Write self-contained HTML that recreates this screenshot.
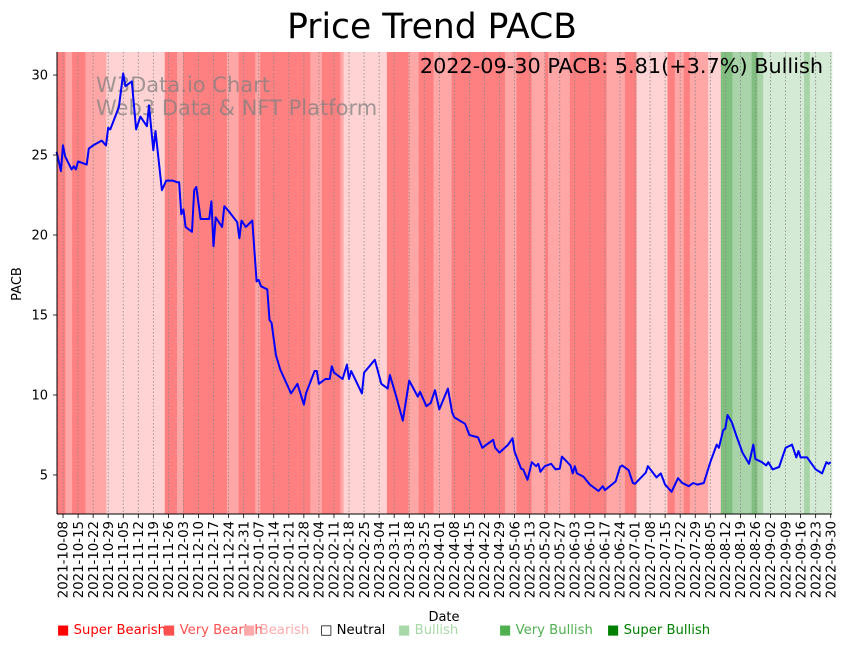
<!DOCTYPE html>
<html><head><meta charset="utf-8"><style>
html,body{margin:0;padding:0;background:#fff;}
svg{display:block;font-family:"DejaVu Sans","Liberation Sans",sans-serif;}
</style></head><body>
<svg id="chart" width="848" height="646" viewBox="0 0 848 646" xmlns="http://www.w3.org/2000/svg">
<text x="432" y="38" font-size="34.5" text-anchor="middle" fill="#000">Price Trend PACB</text>
<g id="bands"></g>
<g id="grid"></g>
<text x="96" y="92" font-size="21" fill="#808080" fill-opacity="0.75">W3Data.io Chart</text>
<text x="96" y="115" font-size="21" fill="#808080" fill-opacity="0.75">Web3 Data &amp; NFT Platform</text>
<g id="line"></g>
<text x="823" y="73" font-size="20.8" text-anchor="end" fill="#000">2022-09-30 PACB: 5.81(+3.7%) Bullish</text>
<g id="axes"></g>
<text x="444" y="621" font-size="13" text-anchor="middle">Date</text>
<text x="21" y="284" font-size="13" text-anchor="middle" transform="rotate(-90 21 284)">PACB</text>
<g id="legend" font-size="13.2">
<text x="57" y="634" fill="#ff0000">■ Super Bearish</text>
<text x="163" y="634" fill="#ff5050">■ Very Bearish</text>
<text x="243" y="634" fill="#ffaaaa">■ Bearish</text>
<text x="320" y="634" fill="#000">□ Neutral</text>
<text x="398" y="634" fill="#a8d8a8">■ Bullish</text>
<text x="499" y="634" fill="#50b050">■ Very Bullish</text>
<text x="607" y="634" fill="#008000">■ Super Bullish</text>
</g>
</svg>
<script>
// day offsets from 2021-10-08
const days=[-3,-1,0,1,4,5,6,7,11,12,14,18,20,21,22,26,28,29,32,34,36,39,40,42,43,46,48,51,53,54,55,56,57,60,61,62,64,68,69,70,71,74,75,77,81,82,83,85,88,90,91,92,95,96,97,99,101,106,109,112,113,117,118,119,122,124,125,126,130,132,133,134,139,140,145,148,151,152,155,158,161,165,166,169,171,173,175,179,181,182,187,189,193,195,200,201,203,207,209,210,213,214,216,218,220,221,222,224,227,229,231,232,236,237,238,239,242,245,249,251,252,257,259,260,263,265,266,271,272,276,278,280,283,286,288,291,293,295,298,301,304,305,307,308,309,311,313,316,319,321,322,325,327,328,330,333,336,339,341,342,343,346,350,353,355,356,357];
const prices=[25.2,24.0,25.6,24.9,24.1,24.3,24.1,24.6,24.4,25.4,25.6,25.9,25.6,26.7,26.6,28.0,30.1,29.3,29.6,26.6,27.4,26.8,28.1,25.3,26.5,22.8,23.4,23.4,23.3,23.3,21.3,21.6,20.5,20.2,22.8,23.0,21.0,21.0,22.1,19.3,21.1,20.5,21.8,21.5,20.8,19.8,20.9,20.5,20.9,17.1,17.2,16.8,16.6,14.7,14.5,12.5,11.6,10.1,10.7,9.4,10.1,11.5,11.5,10.7,11.0,11.0,11.8,11.4,11.0,11.9,11.0,11.5,10.1,11.4,12.2,10.7,10.4,11.25,9.9,8.4,10.9,9.9,10.2,9.3,9.5,10.3,9.1,10.4,8.9,8.6,8.2,7.5,7.35,6.7,7.2,6.7,6.4,6.9,7.3,6.45,5.4,5.35,4.7,5.8,5.55,5.7,5.2,5.55,5.7,5.35,5.4,6.15,5.6,5.1,5.55,5.1,4.9,4.4,4.0,4.3,4.05,4.6,5.5,5.6,5.3,4.5,4.45,5.15,5.55,4.85,5.1,4.4,3.95,4.8,4.5,4.3,4.5,4.4,4.5,5.8,6.9,6.7,7.8,7.9,8.75,8.3,7.5,6.4,5.7,6.9,6.0,5.8,5.6,5.8,5.35,5.5,6.7,6.9,6.1,6.5,6.1,6.1,5.35,5.1,5.8,5.7,5.8];
// sentiment bands: start day, end day, level (-3..3)
const bandStart=[-3,1.1,4.2,10.4,20.1,47.3,53,55.8,76.2,81.7,89.4,91.7,115,120.4,128.9,130.5,150.6,160.7,165.4,172.3,180.7,205.5,210.9,217.9,224.1,225.6,235.7,252.8,261.3,266.7,281.1,284.5,288.7,291.5,300,305.9,311.3,320.2,322.9,325.6,344.6,347.3];
const bandEnd=[1.1,4.2,10.4,20.1,47.3,53,55.8,76.2,81.7,89.4,91.7,115,120.4,128.9,130.5,150.6,160.7,165.4,172.3,180.7,205.5,210.9,217.9,224.1,225.6,235.7,252.8,261.3,266.7,281.1,284.5,288.7,291.5,300,305.9,311.3,320.2,322.9,325.6,344.6,347.3,358];
const bandLevel=[-3,-2,-3,-2,-1,-3,-2,-3,-2,-3,-2,-3,-2,-3,-2,-1,-3,-2,-3,-2,-3,-2,-3,-2,-3,-2,-3,-2,-3,-1,-3,-2,-3,-2,-1,3,2,3,2,1,2,1];
const yTicks=[5,10,15,20,25,30];
const NS="http://www.w3.org/2000/svg";
const L=57,R=832,T=52,B=514;
const d0=-2.8,d1=357.6,v0=2.56,v1=31.44;
function xs(d){return L+(d-d0)/(d1-d0)*(R-L);}
function ys(v){return B-(v-v0)/(v1-v0)*(B-T);}
function mk(tag,attrs,parent){const e=document.createElementNS(NS,tag);for(const k in attrs)e.setAttribute(k,attrs[k]);parent.appendChild(e);return e;}
const colors={"-3":"#ff8080","-2":"#ffa6a6","-1":"#ffd3d3","1":"#d4ead4","2":"#a9d4a9","3":"#80bf80"};
const gb=document.getElementById('bands');
for(let i=0;i<bandStart.length;i++){
 const a=Math.max(L,xs(bandStart[i])),b=Math.min(R,xs(bandEnd[i]));
 const r=mk('rect',{x:a,y:T,width:Math.max(0,b-a+0.3),height:B-T,fill:colors[bandLevel[i]]},gb);
 
 
}
const gg=document.getElementById('grid'),ga=document.getElementById('axes');
const base=new Date(Date.UTC(2021,9,8));
for(let w=0;w<=51;w++){
 const d=w*7,x=xs(d);
 const gl=mk('line',{x1:x,x2:x,y1:T,y2:B,stroke:'#888',"stroke-width":0.8,"stroke-dasharray":"1.5,2"},gg);
 
 
 mk('line',{x1:x,x2:x,y1:B,y2:B+4,stroke:'#000',"stroke-width":0.8},ga);
 const dt=new Date(base.getTime()+d*86400000);
 const s=dt.toISOString().slice(0,10);
 const t=mk('text',{x:x+4.7,y:B+7,"font-size":13.3,"text-anchor":"end",transform:`rotate(-90 ${x+4.7} ${B+7})`},ga);
 t.textContent=s;
 
 
}
yTicks.forEach(v=>{
 const y=ys(v);
 mk('line',{x1:L-4,x2:L,y1:y,y2:y,stroke:'#000',"stroke-width":0.8},ga);
 const t=mk('text',{x:L-9,y:y+4.5,"font-size":13,"text-anchor":"end"},ga);
 t.textContent=v;
 
 
});
const ax=mk('line',{x1:L,x2:L,y1:T,y2:B,stroke:'#000',"stroke-width":1},ga);


const bx=mk('line',{x1:L,x2:R,y1:B,y2:B,stroke:'#000',"stroke-width":1},ga);


const pts=days.map((d,i)=>xs(d).toFixed(1)+','+ys(prices[i]).toFixed(1)).join(' ');
const pl=mk('polyline',{points:pts,fill:'none',stroke:'#0000ff',"stroke-width":2,"stroke-linejoin":"round"},document.getElementById('line'));


</script>
</body></html>
